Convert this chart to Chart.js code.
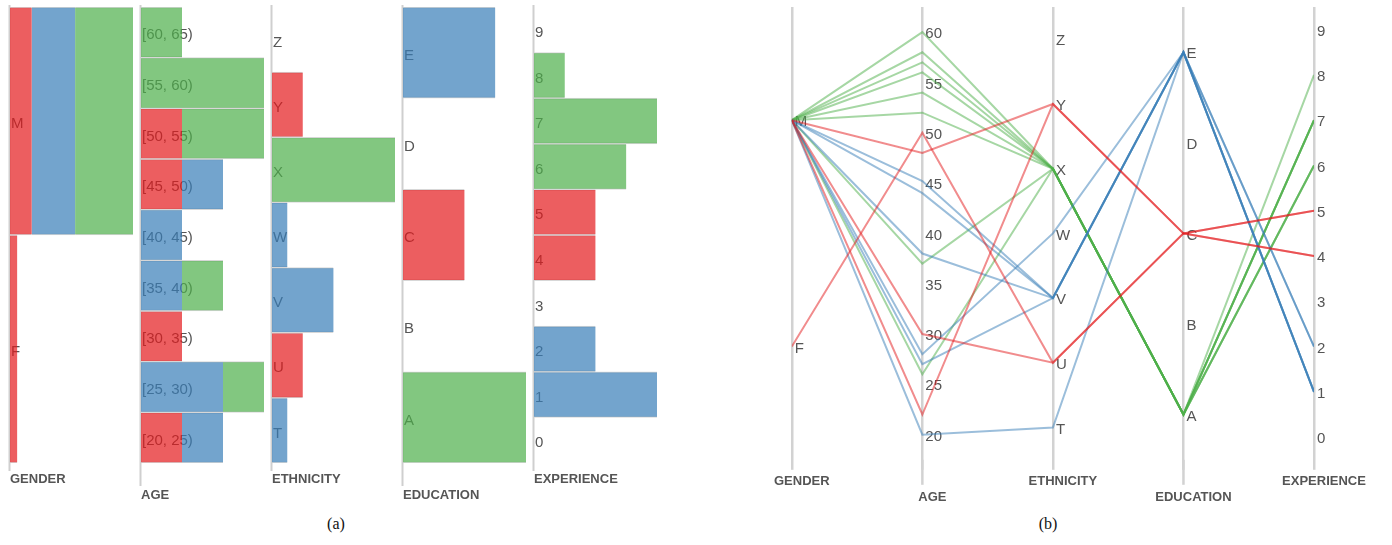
<!DOCTYPE html>
<html>
<head>
<meta charset="utf-8">
<script src="https://cdn.jsdelivr.net/npm/chart.js@4.4.1/dist/chart.umd.min.js"></script>
<style>
    body { margin: 0; background: #fff; }
    #wrap { position: relative; width: 1392px; height: 545px; overflow: hidden; }
    #wrap canvas { position: absolute; top: 0; }
    .caption { position: absolute; top: 515px; width: 60px; text-align: center;
               font: 16px "Liberation Serif", "Times New Roman", serif; color: #111; }
</style>
</head>
<body>
<div id="wrap">
    <div class="caption" style="left:306px">(a)</div>
    <div class="caption" style="left:1018px">(b)</div>
</div>
<script>
const axisNames = ['GENDER', 'AGE', 'ETHNICITY', 'EDUCATION', 'EXPERIENCE'];
const genderCats = ['M', 'F'];
const ageBins = ['[60, 65)', '[55, 60)', '[50, 55)', '[45, 50)', '[40, 45)', '[35, 40)', '[30, 35)', '[25, 30)', '[20, 25)'];
const ageTicks = [20, 25, 30, 35, 40, 45, 50, 55, 60];
const ageRange = [17.5, 62.5];
const ethnicityCats = ['Z', 'Y', 'X', 'W', 'V', 'U', 'T'];
const educationCats = ['E', 'D', 'C', 'B', 'A'];
const experienceCats = ['9', '8', '7', '6', '5', '4', '3', '2', '1', '0'];

// one entry per record, grouped by colour
const redGender = ['F', 'M', 'M', 'M'];
const redAge = [50, 48, 30, 22];
const redEthnicity = ['U', 'Y', 'U', 'Y'];
const redEducation = ['C', 'C', 'C', 'C'];
const redExperience = [5, 4, 4, 5];

const blueGender = ['M', 'M', 'M', 'M', 'M', 'M'];
const blueAge = [45.2, 44, 38, 28, 27, 20];
const blueEthnicity = ['V', 'V', 'V', 'W', 'V', 'T'];
const blueEducation = ['E', 'E', 'E', 'E', 'E', 'E'];
const blueExperience = [1, 2, 1, 1, 2, 1];

const greenGender = ['M', 'M', 'M', 'M', 'M', 'M', 'M', 'M'];
const greenAge = [60, 58, 57, 56, 54, 52, 37, 26];
const greenEthnicity = ['X', 'X', 'X', 'X', 'X', 'X', 'X', 'X'];
const greenEducation = ['A', 'A', 'A', 'A', 'A', 'A', 'A', 'A'];
const greenExperience = [8, 7, 7, 6, 7, 6, 7, 6];

const groups = [
    { rgb: '228, 26, 28', gender: redGender, age: redAge, ethnicity: redEthnicity, education: redEducation, experience: redExperience },
    { rgb: '55, 126, 184', gender: blueGender, age: blueAge, ethnicity: blueEthnicity, education: blueEducation, experience: blueExperience },
    { rgb: '77, 175, 74', gender: greenGender, age: greenAge, ethnicity: greenEthnicity, education: greenEducation, experience: greenExperience },
];

Chart.defaults.font.family = '"Liberation Sans", Arial, sans-serif';
Chart.defaults.color = '#555';

function ageBin(a) {
    const lo = Math.floor(a / 5) * 5;
    return `[${lo}, ${lo + 5})`;
}

function countBy(values, cats, key) {
    return cats.map(c => values.filter(v => key(v) === c).length);
}

const columns = [
    { cats: genderCats, field: 'gender', key: v => v },
    { cats: ageBins, field: 'age', key: ageBin },
    { cats: ethnicityCats, field: 'ethnicity', key: v => v },
    { cats: educationCats, field: 'education', key: v => v },
    { cats: experienceCats, field: 'experience', key: v => String(v) },
];

const wrap = document.getElementById('wrap');

function makeCanvas(left, width, height) {
    const c = document.createElement('canvas');
    c.width = width;
    c.height = height;
    c.style.left = left + 'px';
    wrap.appendChild(c);
    return c;
}

// vertical grey axis line running a little past the plot into the title area
const axisLine = {
    id: 'axisLine',
    beforeDatasetsDraw(chart, args, opts) {
        const { ctx, chartArea } = chart;
        ctx.save();
        ctx.strokeStyle = '#cfcfcf';
        ctx.lineWidth = 2;
        ctx.beginPath();
        ctx.moveTo(chartArea.left - 0.5, chartArea.top - 2);
        ctx.lineTo(chartArea.left - 0.5, chartArea.bottom + opts.extend);
        ctx.stroke();
        ctx.restore();
    }
};

// (a) one stacked histogram per attribute
columns.forEach((col, i) => {
    const low = i % 2 === 1;
    const datasets = groups.map(g => ({
        data: countBy(g[col.field], col.cats, col.key),
        backgroundColor: `rgba(${g.rgb}, 0.7)`,
        borderColor: 'rgba(215, 215, 215, 1)',
        borderWidth: { top: 1, bottom: 1, left: 0, right: 0 },
        borderSkipped: false,
        barPercentage: 1,
        categoryPercentage: 1,
    }));
    const totals = col.cats.map((_, k) => datasets.reduce((s, d) => s + d.data[k], 0));

    new Chart(makeCanvas(131 * i + 4, 134, 510), {
        type: 'bar',
        data: { labels: col.cats, datasets: datasets },
        options: {
            indexAxis: 'y',
            responsive: false,
            animation: false,
            layout: { padding: { left: 4, right: 5, top: 7, bottom: 0 } },
            plugins: {
                legend: { display: false },
                tooltip: { enabled: false },
                axisLine: { extend: low ? 23 : 8 },
            },
            scales: {
                x: {
                    stacked: true,
                    min: 0,
                    max: Math.max(...totals),
                    ticks: { display: false },
                    grid: { display: false, drawTicks: false },
                    border: { display: false },
                    title: {
                        display: true,
                        text: axisNames[i],
                        align: 'start',
                        color: '#555',
                        font: { size: 13, weight: 'bold' },
                        padding: low ? { top: 24.2, bottom: 7.2 } : { top: 8.7, bottom: 22.7 },
                    },
                },
                y: {
                    stacked: true,
                    grid: { display: false, drawTicks: false },
                    border: { display: false },
                    ticks: {
                        mirror: true, padding: 1, labelOffset: 3, autoSkip: false, color: '#555',
                        font: { size: 15, lineHeight: 0.5 },
                    },
                },
            },
        },
        plugins: [axisLine],
    });
});

// (b) parallel coordinates, each axis mapped onto a shared 0..1 range
function catPos(list, v) {
    return 1 - (list.indexOf(String(v)) + 0.5) / list.length;
}

const position = [
    v => catPos(genderCats, v),
    v => (v - ageRange[0]) / (ageRange[1] - ageRange[0]),
    v => catPos(ethnicityCats, v),
    v => catPos(educationCats, v),
    v => catPos(experienceCats, v),
];

const axisTickLabels = [
    genderCats.map(c => [c, position[0](c)]),
    ageTicks.map(t => [String(t), position[1](t)]),
    ethnicityCats.map(c => [c, position[2](c)]),
    educationCats.map(c => [c, position[3](c)]),
    experienceCats.map(c => [c, position[4](c)]),
];

const lineSets = [];
groups.forEach(g => {
    g.age.forEach((_, i) => {
        const rec = [g.gender[i], g.age[i], g.ethnicity[i], g.education[i], g.experience[i]];
        lineSets.push({
            data: rec.map((v, k) => ({ x: k, y: position[k](v) })),
            borderColor: `rgba(${g.rgb}, 0.5)`,
            borderWidth: 2,
            pointRadius: 0,
            tension: 0,
        });
    });
});

const parallelLabels = {
    id: 'parallelLabels',
    beforeDatasetsDraw(chart) {
        const { ctx, chartArea, scales: { x, y } } = chart;
        ctx.save();
        // lower titles get a longer axis line
        ctx.strokeStyle = '#d2d2d2';
        ctx.lineWidth = 2.5;
        [1, 3].forEach(k => {
            const px = x.getPixelForValue(k);
            ctx.beginPath();
            ctx.moveTo(px, chartArea.bottom);
            ctx.lineTo(px, chartArea.bottom + 25);
            ctx.stroke();
        });
        ctx.font = '15px "Liberation Sans", Arial, sans-serif';
        ctx.fillStyle = '#555';
        ctx.textAlign = 'left';
        ctx.textBaseline = 'middle';
        axisTickLabels.forEach((labels, k) => {
            const px = x.getPixelForValue(k) + 3;
            labels.forEach(([text, pos]) => ctx.fillText(text, px, y.getPixelForValue(pos) + 2));
        });
        ctx.restore();
    }
};

new Chart(makeCanvas(760, 632, 510), {
    type: 'line',
    data: { datasets: lineSets },
    options: {
        responsive: false,
        animation: false,
        layout: { padding: { left: 31, right: 78, top: 7, bottom: 1 } },
        plugins: { legend: { display: false }, tooltip: { enabled: false } },
        scales: {
            x: {
                type: 'linear',
                min: 0,
                max: 4,
                border: { display: false },
                grid: { color: '#d2d2d2', lineWidth: 2.5, tickLength: 10 },
                ticks: {
                    stepSize: 1,
                    autoSkip: false,
                    maxRotation: 0,
                    padding: 4,
                    labelOffset: 10,
                    color: '#555',
                    font: { size: 13, weight: 'bold' },
                    callback: v => (v % 2 ? ['', axisNames[v]] : axisNames[v]),
                },
            },
            y: { display: false, min: 0, max: 1 },
        },
    },
    plugins: [parallelLabels],
});
</script>
</body>
</html>
